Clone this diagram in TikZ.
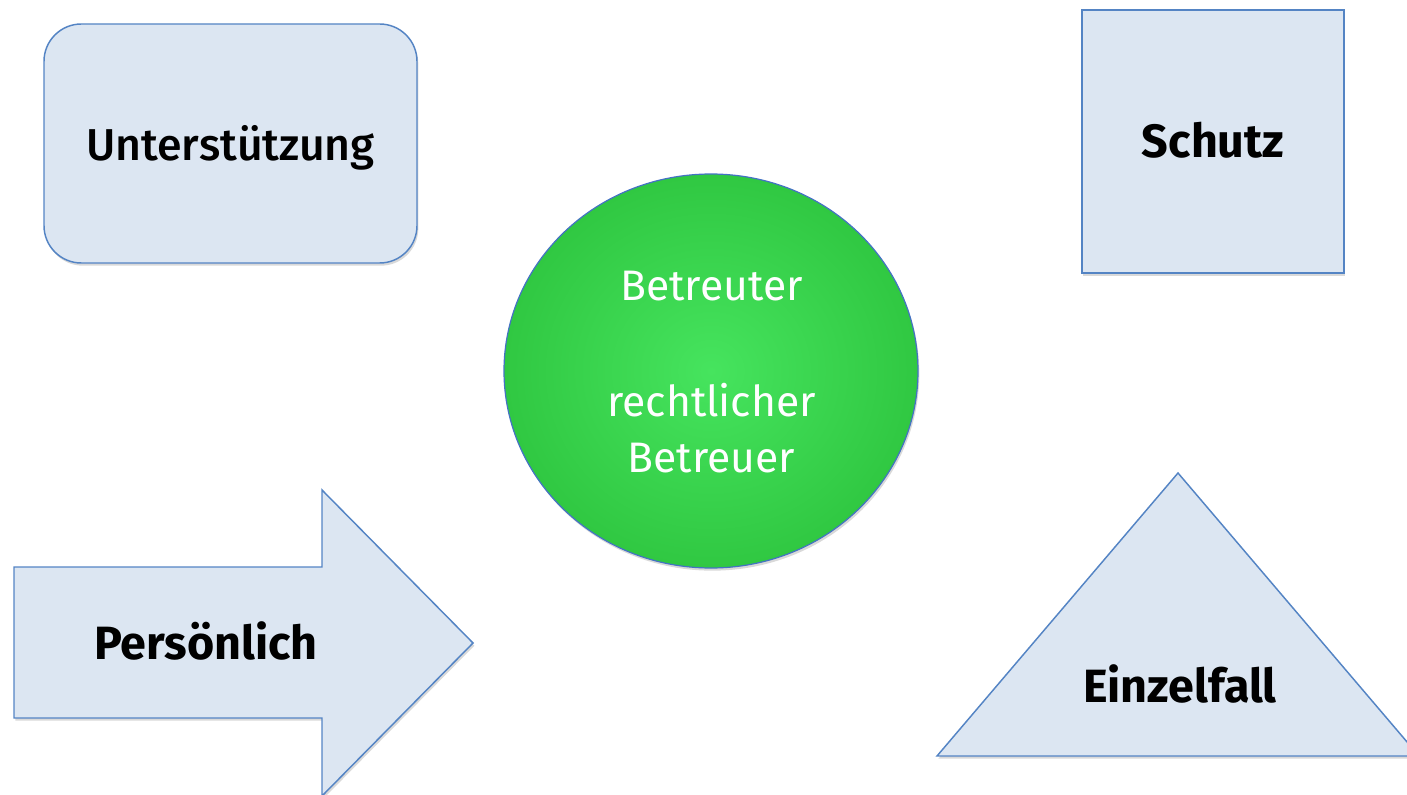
\documentclass[tikz,border=0pt]{standalone}
\usepackage{fontspec}
\setmainfont{Fira Sans}
\newfontfamily\mediumfont{Fira Sans Medium}
\usetikzlibrary{shadows}
\definecolor{boxfill}{RGB}{220,230,242}
\definecolor{boxline}{RGB}{84,132,196}
\definecolor{ballline}{RGB}{68,114,196}
\definecolor{ballin}{RGB}{70,228,94}
\definecolor{ballmid}{RGB}{42,192,58}
\definecolor{ballout}{RGB}{16,152,28}
\pgfdeclareradialshading{greenball}{\pgfpointorigin}{color(0bp)=(ballin); color(32bp)=(ballmid); color(50bp)=(ballout)}
\tikzset{every picture/.style={line width=0.75pt}}

\begin{document}
\begin{tikzpicture}[x=0.75pt,y=0.75pt,yscale=-1,xscale=1,
  soft shadow/.style={drop shadow={shadow xshift=1pt,shadow yshift=-2pt,opacity=.3}},
  shapebox/.style={draw=boxline,fill=boxfill,line width=1.1pt,soft shadow},
  boldlabel/.style={anchor=base,inner sep=0.75pt,font=\bfseries\fontsize{35}{42}\selectfont},
  balltext/.style={anchor=base,inner sep=0.75pt,text=white,font=\fontsize{32}{38}\selectfont}]
\path[use as bounding box] (0,0) rectangle (1407,795);

%Shape: Rounded Rect [id:support]
\draw[shapebox,rounded corners=28pt] (44,24) rectangle (417,263);
%Shape: Square [id:protect]
\draw[shapebox] (1082,10) rectangle (1344,273);
%Shape: Right Arrow [id:personal]
\draw[shapebox] (14,567) -- (322,567) -- (322,490) -- (473,643) -- (322,796) -- (322,718) -- (14,718) -- cycle;
%Shape: Triangle [id:single]
\draw[shapebox] (1178,473) -- (1419,756) -- (937,756) -- cycle;
%Shape: Ellipse [id:carer]
\draw[draw=ballline,line width=0.9pt,shading=greenball,soft shadow] (711,371) ellipse (207 and 197);

% Text Node
\node[boldlabel,font=\mediumfont\fontsize{33.5}{40}\selectfont] (support) at (230.5,160.5) {Unterstützung};
% Text Node
\node[boldlabel] (protect) at (1213,158) {Schutz};
% Text Node
\node[boldlabel] (personal) at (206,659) {Persönlich};
% Text Node
\node[boldlabel] (single) at (1180,702) {Einzelfall};
% Text Node
\node[balltext] (carer) at (711.5,300) {Betreuter};
% Text Node
\node[balltext] (legal) at (711.5,416) {rechtlicher};
% Text Node
\node[balltext] (legal2) at (711.5,472) {Betreuer};

\end{tikzpicture}
\end{document}
